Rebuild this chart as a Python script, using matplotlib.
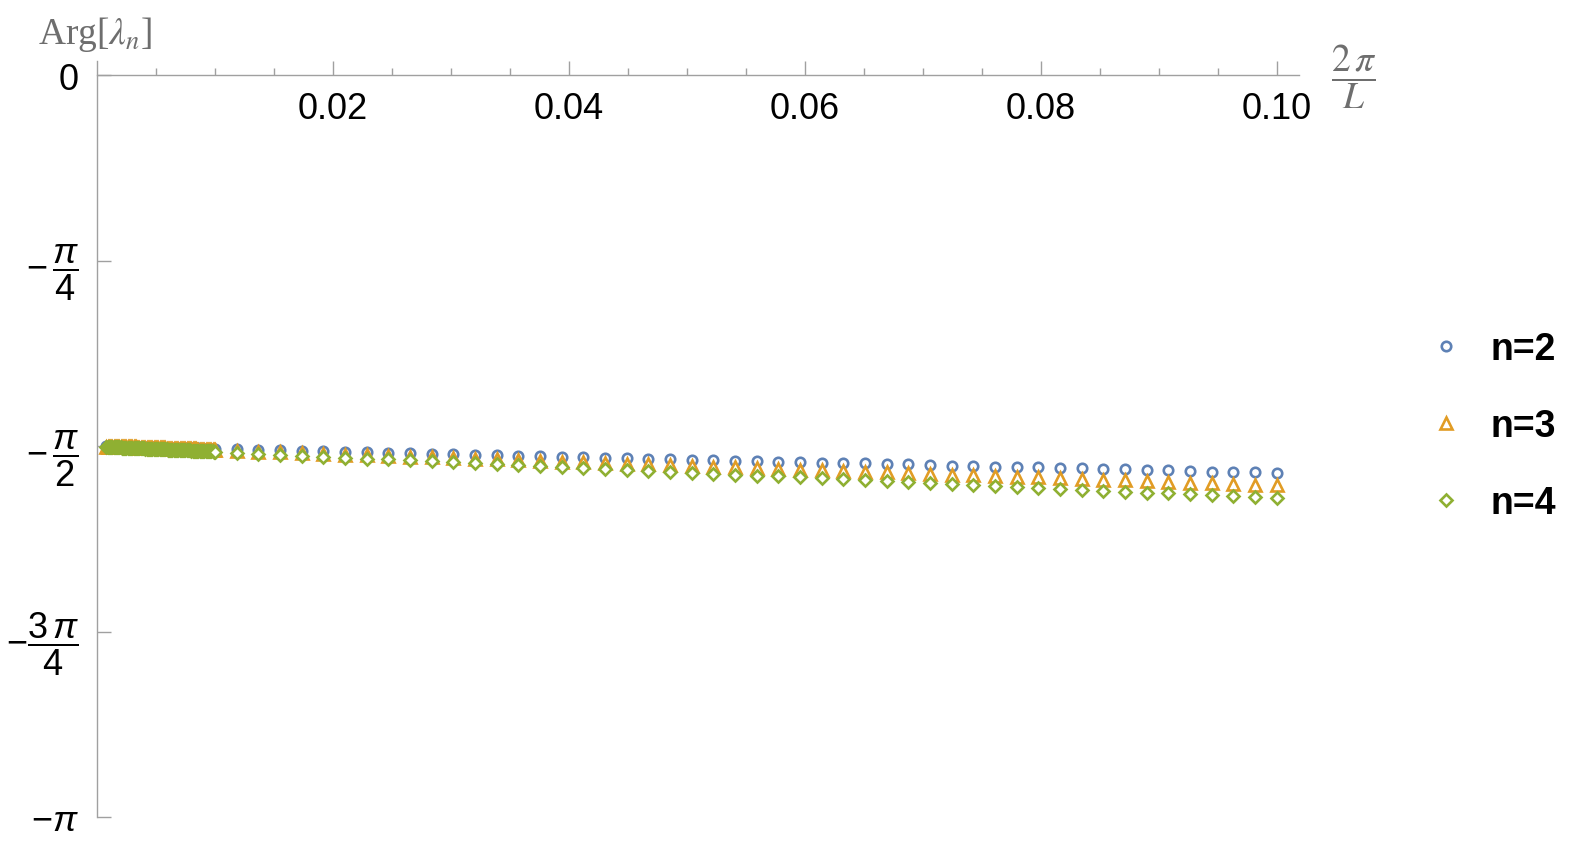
import numpy as np
import matplotlib
matplotlib.use("Agg")
import matplotlib.pyplot as plt

# ---------------- data ----------------
x_vals = [0.0008, 0.0009, 0.0010, 0.0011, 0.0012, 0.0013, 0.0014, 0.0015, 0.0016, 0.0017,
          0.0018, 0.0019, 0.0020, 0.0021, 0.0022, 0.0023, 0.0024, 0.0025, 0.0026, 0.0027,
          0.0028, 0.0029, 0.0030, 0.0031, 0.0032, 0.0033, 0.0034, 0.0035, 0.0036, 0.0037,
          0.0038, 0.0039, 0.0040, 0.0041, 0.0042, 0.0043, 0.0044, 0.0045, 0.0046, 0.0047,
          0.0048, 0.0049, 0.0050, 0.0051, 0.0052, 0.0053, 0.0054, 0.0055, 0.0056, 0.0057,
          0.0058, 0.0059, 0.0060, 0.0061, 0.0062, 0.0063, 0.0064, 0.0065, 0.0066, 0.0067,
          0.0068, 0.0069, 0.0070, 0.0071, 0.0072, 0.0073, 0.0074, 0.0075, 0.0076, 0.0077,
          0.0078, 0.0079, 0.0080, 0.0081, 0.0082, 0.0083, 0.0084, 0.0085, 0.0086, 0.0087,
          0.0088, 0.0089, 0.0090, 0.0091, 0.0092, 0.0093, 0.0094, 0.0095, 0.0096, 0.0097,
          0.0098, 0.0099, 0.0100,
          0.01184, 0.01367, 0.01551, 0.01735, 0.01918, 0.02102, 0.02286, 0.02469, 0.02653, 0.02837,
          0.03020, 0.03204, 0.03388, 0.03571, 0.03755, 0.03939, 0.04122, 0.04306, 0.04490, 0.04673,
          0.04857, 0.05041, 0.05224, 0.05408, 0.05592, 0.05776, 0.05959, 0.06143, 0.06327, 0.06510,
          0.06694, 0.06878, 0.07061, 0.07245, 0.07429, 0.07612, 0.07796, 0.07980, 0.08163, 0.08347,
          0.08531, 0.08714, 0.08898, 0.09082, 0.09265, 0.09449, 0.09633, 0.09816, 0.10000]

arg_n2 = [-1.5717, -1.5718, -1.5719, -1.5720, -1.5722, -1.5723, -1.5724, -1.5725, -1.5726, -1.5727,
          -1.5728, -1.5729, -1.5731, -1.5732, -1.5733, -1.5734, -1.5735, -1.5736, -1.5737, -1.5739,
          -1.5740, -1.5741, -1.5742, -1.5743, -1.5744, -1.5745, -1.5746, -1.5748, -1.5749, -1.5750,
          -1.5751, -1.5752, -1.5753, -1.5754, -1.5755, -1.5757, -1.5758, -1.5759, -1.5760, -1.5761,
          -1.5762, -1.5763, -1.5765, -1.5766, -1.5767, -1.5768, -1.5769, -1.5770, -1.5771, -1.5772,
          -1.5774, -1.5775, -1.5776, -1.5777, -1.5778, -1.5779, -1.5780, -1.5781, -1.5783, -1.5784,
          -1.5785, -1.5786, -1.5787, -1.5788, -1.5789, -1.5790, -1.5792, -1.5793, -1.5794, -1.5795,
          -1.5796, -1.5797, -1.5798, -1.5800, -1.5801, -1.5802, -1.5803, -1.5804, -1.5805, -1.5806,
          -1.5807, -1.5809, -1.5810, -1.5811, -1.5812, -1.5813, -1.5814, -1.5815, -1.5816, -1.5818,
          -1.5819, -1.5820, -1.5821,
          -1.584, -1.586, -1.588, -1.590, -1.593, -1.595, -1.597, -1.599, -1.601, -1.603,
          -1.605, -1.607, -1.609, -1.611, -1.613, -1.615, -1.617, -1.620, -1.622, -1.624,
          -1.626, -1.628, -1.630, -1.632, -1.634, -1.636, -1.638, -1.640, -1.642, -1.644,
          -1.646, -1.648, -1.651, -1.653, -1.655, -1.657, -1.659, -1.661, -1.663, -1.665,
          -1.667, -1.669, -1.671, -1.673, -1.675, -1.678, -1.680, -1.682, -1.684]

arg_n3 = [-1.5721, -1.5723, -1.5725, -1.5726, -1.5728, -1.5730, -1.5731, -1.5733, -1.5735, -1.5736,
          -1.5738, -1.5740, -1.5741, -1.5743, -1.5745, -1.5746, -1.5748, -1.5750, -1.5751, -1.5753,
          -1.5754, -1.5756, -1.5758, -1.5759, -1.5761, -1.5763, -1.5764, -1.5766, -1.5768, -1.5769,
          -1.5771, -1.5773, -1.5774, -1.5776, -1.5778, -1.5779, -1.5781, -1.5783, -1.5784, -1.5786,
          -1.5788, -1.5789, -1.5791, -1.5793, -1.5794, -1.5796, -1.5798, -1.5799, -1.5801, -1.5803,
          -1.5804, -1.5806, -1.5808, -1.5809, -1.5811, -1.5813, -1.5814, -1.5816, -1.5818, -1.5819,
          -1.5821, -1.5823, -1.5824, -1.5826, -1.5828, -1.5829, -1.5831, -1.5833, -1.5834, -1.5836,
          -1.5837, -1.5839, -1.5841, -1.5842, -1.5844, -1.5846, -1.5847, -1.5849, -1.5851, -1.5852,
          -1.5854, -1.5856, -1.5857, -1.5859, -1.5861, -1.5862, -1.5864, -1.5866, -1.5867, -1.5869,
          -1.5871, -1.5872, -1.5874,
          -1.590, -1.594, -1.597, -1.600, -1.603, -1.606, -1.609, -1.612, -1.615, -1.618,
          -1.621, -1.624, -1.627, -1.630, -1.633, -1.636, -1.639, -1.642, -1.645, -1.648,
          -1.651, -1.655, -1.658, -1.661, -1.664, -1.667, -1.670, -1.673, -1.676, -1.679,
          -1.682, -1.685, -1.688, -1.691, -1.694, -1.697, -1.700, -1.703, -1.706, -1.709,
          -1.712, -1.715, -1.719, -1.722, -1.725, -1.728, -1.731, -1.734, -1.737]

arg_n4 = [-1.5735, -1.5738, -1.5740, -1.5742, -1.5744, -1.5746, -1.5749, -1.5751, -1.5753, -1.5755,
          -1.5757, -1.5759, -1.5762, -1.5764, -1.5766, -1.5768, -1.5770, -1.5772, -1.5775, -1.5777,
          -1.5779, -1.5781, -1.5783, -1.5786, -1.5788, -1.5790, -1.5792, -1.5794, -1.5796, -1.5799,
          -1.5801, -1.5803, -1.5805, -1.5807, -1.5810, -1.5812, -1.5814, -1.5816, -1.5818, -1.5820,
          -1.5823, -1.5825, -1.5827, -1.5829, -1.5831, -1.5834, -1.5836, -1.5838, -1.5840, -1.5842,
          -1.5844, -1.5847, -1.5849, -1.5851, -1.5853, -1.5855, -1.5858, -1.5860, -1.5862, -1.5864,
          -1.5866, -1.5868, -1.5871, -1.5873, -1.5875, -1.5877, -1.5879, -1.5881, -1.5884, -1.5886,
          -1.5888, -1.5890, -1.5892, -1.5895, -1.5897, -1.5899, -1.5901, -1.5903, -1.5905, -1.5908,
          -1.5910, -1.5912, -1.5914, -1.5916, -1.5919, -1.5921, -1.5923, -1.5925, -1.5927, -1.5929,
          -1.5932, -1.5934, -1.5936,
          -1.599, -1.603, -1.607, -1.611, -1.615, -1.619, -1.623, -1.627, -1.631, -1.635,
          -1.639, -1.643, -1.647, -1.651, -1.655, -1.659, -1.663, -1.667, -1.671, -1.675,
          -1.679, -1.683, -1.687, -1.691, -1.695, -1.699, -1.703, -1.707, -1.711, -1.715,
          -1.719, -1.723, -1.727, -1.731, -1.735, -1.739, -1.743, -1.747, -1.751, -1.755,
          -1.759, -1.763, -1.767, -1.771, -1.775, -1.779, -1.783, -1.787, -1.791]

series_labels = ["n=2", "n=3", "n=4"]
x_ticks = [0.02, 0.04, 0.06, 0.08, 0.10]
x_ticklabels = ["0.02", "0.04", "0.06", "0.08", "0.10"]
y_ticks = [0, -np.pi / 4, -np.pi / 2, -3 * np.pi / 4, -np.pi]
y_ticklabels = [r"$0$", r"$-\,\dfrac{\pi}{4}$", r"$-\,\dfrac{\pi}{2}$",
                r"$-\dfrac{3\,\pi}{4}$", r"$-\pi$"]

# ---------------- style ----------------
plt.rcParams["font.family"] = ["Liberation Sans", "DejaVu Sans"]
plt.rcParams["mathtext.fontset"] = "custom"
plt.rcParams["mathtext.rm"] = "Liberation Sans"
plt.rcParams["mathtext.it"] = "Liberation Sans:italic"
plt.rcParams["mathtext.bf"] = "Liberation Sans:bold"

colors = ["#5E81B5", "#E19C24", "#8FB032"]
markers = ["o", "^", "D"]
msizes = [6.8, 8.0, 5.8]
axis_gray = "#A0A0A0"

fig = plt.figure(figsize=(15.78, 8.45), dpi=100)
ax = fig.add_axes([97 / 1578, 1 - 818 / 845, (1299 - 97) / 1578, (818 - 62) / 845])

for ys, c, m, ms, lab in zip([arg_n2, arg_n3, arg_n4], colors, markers, msizes, series_labels):
    ax.plot(x_vals, ys, linestyle="none", marker=m, markersize=ms,
            markerfacecolor="white", markeredgecolor=c, markeredgewidth=1.9,
            label=lab, clip_on=False)

ax.set_xlim(0, 0.1019)
ax.set_ylim(-np.pi, 0.061)

for s in ["top", "right"]:
    ax.spines[s].set_visible(False)
ax.spines["bottom"].set_position(("data", 0))
ax.spines["bottom"].set_color(axis_gray)
ax.spines["left"].set_color(axis_gray)
ax.spines["bottom"].set_linewidth(1.0)
ax.spines["left"].set_linewidth(1.0)

ax.set_xticks(x_ticks)
ax.set_xticklabels(x_ticklabels)
ax.set_xticks(np.arange(0.005, 0.1001, 0.005), minor=True)
ax.tick_params(axis="x", which="major", direction="in", length=10, width=1.0,
               color=axis_gray, labelsize=26, pad=11, labelcolor="black")
ax.tick_params(axis="x", which="minor", direction="in", length=5, width=1.0, color=axis_gray)

ax.set_yticks(y_ticks)
ax.set_yticklabels(y_ticklabels)
ax.tick_params(axis="y", which="major", direction="in", length=10, width=1.0,
               color=axis_gray, labelsize=26, pad=13, labelcolor="black")

# axis labels
fig.text(38 / 1578, 1 - 34 / 845, r"Arg[$\lambda_n$]", fontsize=27, color="#6E6E6E",
         family="Liberation Serif", math_fontfamily="stix", ha="left", va="center")
fig.text(1354 / 1578, 1 - 77 / 845, r"$\dfrac{2\,\pi}{L}$", fontsize=27, color="#6E6E6E",
         math_fontfamily="stix", ha="center", va="center")

leg = ax.legend(loc="center left", bbox_to_anchor=(1429 / 1578, 1 - 427 / 845),
                bbox_transform=fig.transFigure, frameon=False, handlelength=0.9,
                handletextpad=0.75, labelspacing=1.1, borderpad=0, borderaxespad=0,
                prop={"family": "Liberation Sans", "weight": "bold", "size": 27})

fig.savefig("out.png", dpi=100)
